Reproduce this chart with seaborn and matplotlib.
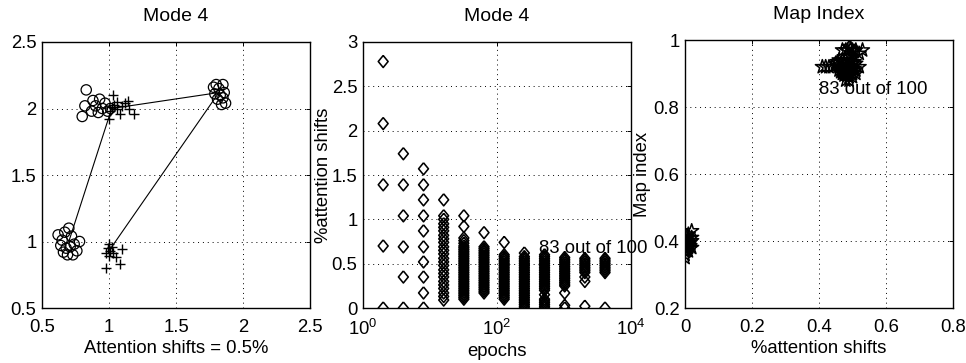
import matplotlib
matplotlib.use("Agg")
import matplotlib.pyplot as plt
import pandas as pd
import seaborn as sns

# ---- panel 1: Mode 4 clusters (Attention shifts = 0.5%)
circle_x = [0.62, 0.64, 0.66, 0.69, 0.73, 0.76, 0.78, 0.72, 0.70, 0.67, 0.65, 0.71, 0.74, 0.68,
            0.83, 0.82, 0.80, 0.88, 0.90, 0.92, 0.95, 0.97, 0.99, 0.87, 0.93, 1.01,
            1.78, 1.80, 1.82, 1.85, 1.86, 1.87, 1.84, 1.81, 1.79, 1.83, 1.85]
circle_y = [1.05, 0.97, 0.92, 0.90, 0.90, 0.93, 1.00, 1.04, 1.10, 1.07, 1.01, 0.96, 0.98, 0.95,
            2.14, 2.02, 1.94, 2.06, 2.02, 1.97, 2.00, 2.04, 1.98, 1.98, 2.07, 2.00,
            2.16, 2.18, 2.15, 2.18, 2.12, 2.04, 2.03, 2.07, 2.11, 2.10, 2.08]
plus_x = [1.00, 1.01, 1.03, 1.04, 1.06, 1.08, 1.10, 1.12, 1.14, 1.15, 1.19, 1.06, 1.02,
          0.98, 0.99, 1.00, 1.01, 1.03, 1.05, 1.08, 1.10, 0.98, 1.02, 1.00]
plus_y = [1.92, 1.98, 2.10, 2.03, 2.00, 1.96, 2.02, 2.04, 2.06, 2.00, 1.96, 2.05, 2.01,
          0.80, 0.95, 0.98, 0.93, 0.91, 0.88, 0.83, 0.94, 0.91, 0.96, 0.89]
path_x = [0.70, 1.02, 1.82, 1.00, 0.70]
path_y = [1.00, 2.00, 2.12, 0.93, 1.00]

# ---- panel 2: %attention shifts per epoch count
epochs = [2, 4, 8, 16, 32, 64, 128, 256, 512, 1024, 2048, 4096]
shifts_e2 = [0, 0.70, 1.39, 2.08, 2.78]
shifts_e4 = [0, 0.35, 0.69, 1.04, 1.39, 1.74]
shifts_e8 = [0, 0.17, 0.35, 0.52, 0.69, 0.87, 1.04, 1.22, 1.39, 1.57]
shifts_e16 = [0.09, 0.13, 0.17, 0.22, 0.26, 0.30, 0.35, 0.39, 0.43, 0.48, 0.52, 0.56,
              0.61, 0.65, 0.69, 0.74, 0.78, 0.82, 0.87, 0.91, 0.95, 1.00, 1.04, 1.22]
shifts_e32 = [0.10, 0.12, 0.14, 0.16, 0.18, 0.20, 0.22, 0.24, 0.26, 0.28, 0.30, 0.32,
              0.34, 0.36, 0.38, 0.40, 0.42, 0.44, 0.46, 0.48, 0.50, 0.52, 0.54, 0.56,
              0.58, 0.60, 0.62, 0.64, 0.66, 0.68, 0.70, 0.73, 0.76, 0.79, 0.92, 1.04]
shifts_e64 = [0.17, 0.19, 0.21, 0.23, 0.25, 0.27, 0.29, 0.31, 0.33, 0.35, 0.37, 0.39,
              0.41, 0.43, 0.45, 0.47, 0.49, 0.51, 0.53, 0.55, 0.57, 0.59, 0.61, 0.63,
              0.65, 0.67, 0.69, 0.85]
shifts_e128 = [0.10, 0.12, 0.14, 0.16, 0.18, 0.20, 0.22, 0.24, 0.26, 0.28, 0.30, 0.32,
               0.34, 0.36, 0.38, 0.40, 0.42, 0.44, 0.46, 0.48, 0.50, 0.52, 0.54, 0.56,
               0.58, 0.60, 0.74]
shifts_e256 = [0.00, 0.02, 0.04, 0.06, 0.08, 0.10, 0.12, 0.14, 0.16, 0.18, 0.20, 0.22,
               0.24, 0.26, 0.28, 0.30, 0.32, 0.34, 0.36, 0.38, 0.40, 0.42, 0.44, 0.46,
               0.48, 0.50, 0.52, 0.54, 0.56, 0.58, 0.62]
shifts_e512 = [0.00, 0.02, 0.04, 0.06, 0.08, 0.10, 0.15, 0.20, 0.22, 0.24, 0.26, 0.28,
               0.30, 0.32, 0.34, 0.36, 0.38, 0.40, 0.42, 0.44, 0.46, 0.48, 0.50, 0.52,
               0.54, 0.56, 0.58, 0.60]
shifts_e1024 = [0.00, 0.03, 0.17, 0.25, 0.27, 0.29, 0.31, 0.33, 0.35, 0.37, 0.39, 0.41,
                0.43, 0.45, 0.47, 0.49, 0.51, 0.53, 0.55, 0.57]
shifts_e2048 = [0.02, 0.30, 0.35, 0.40, 0.42, 0.44, 0.46, 0.48, 0.50, 0.52, 0.54, 0.56]
shifts_e4096 = [0.00, 0.40, 0.42, 0.44, 0.46, 0.48, 0.50, 0.52, 0.54, 0.56]

# ---- panel 3: Map index vs %attention shifts
star_x = [0.00, 0.01, 0.00, 0.01, 0.02, 0.00, 0.01, 0.00, 0.01, 0.02, 0.00, 0.01, 0.00,
          0.02, 0.01, 0.00, 0.02, 0.005, 0.015, 0.005, 0.015,
          0.47, 0.48, 0.49, 0.50, 0.51, 0.52, 0.53, 0.485, 0.495, 0.505,
          0.41, 0.42, 0.43, 0.44, 0.45,
          0.45, 0.46, 0.47, 0.48, 0.49, 0.50, 0.51, 0.52, 0.46, 0.47, 0.48, 0.49,
          0.50, 0.51, 0.46, 0.47, 0.48, 0.49, 0.50, 0.51, 0.47, 0.48, 0.49, 0.50,
          0.48, 0.49, 0.465, 0.475, 0.485, 0.495, 0.505, 0.475, 0.485, 0.495,
          0.505, 0.455, 0.465, 0.475, 0.485, 0.495]
star_y = [0.37, 0.38, 0.39, 0.40, 0.41, 0.36, 0.42, 0.38, 0.39, 0.40, 0.41, 0.37, 0.35,
          0.38, 0.41, 0.40, 0.43, 0.385, 0.395, 0.375, 0.385,
          0.97, 0.97, 0.98, 0.97, 0.97, 0.96, 0.97, 0.97, 0.975, 0.965,
          0.92, 0.92, 0.92, 0.92, 0.93,
          0.93, 0.94, 0.94, 0.94, 0.94, 0.93, 0.93, 0.92, 0.92, 0.92, 0.92, 0.92,
          0.92, 0.91, 0.91, 0.91, 0.91, 0.91, 0.90, 0.90, 0.90, 0.90, 0.89, 0.89,
          0.88, 0.88, 0.925, 0.925, 0.925, 0.915, 0.915, 0.905, 0.905, 0.935,
          0.935, 0.935, 0.905, 0.895, 0.895, 0.915]

shift_lists = [shifts_e2, shifts_e4, shifts_e8, shifts_e16, shifts_e32, shifts_e64,
               shifts_e128, shifts_e256, shifts_e512, shifts_e1024, shifts_e2048, shifts_e4096]
df_shift = pd.DataFrame({
    "epochs": [e for e, vals in zip(epochs, shift_lists) for _ in vals],
    "shift": [v for vals in shift_lists for v in vals],
})

sns.set_theme(style="white")
plt.rcParams["font.family"] = ["Liberation Sans", "DejaVu Sans"]
plt.rcParams["mathtext.fontset"] = "custom"
plt.rcParams["mathtext.rm"] = "Liberation Sans"
plt.rcParams["mathtext.it"] = "Liberation Sans"
for key in ["text.color", "axes.labelcolor", "xtick.color", "ytick.color"]:
    plt.rcParams[key] = "black"

fig = plt.figure(figsize=(9.66, 3.63), dpi=100)
ax1 = fig.add_axes([0.0435, 0.1515, 0.2774, 0.7328])
ax2 = fig.add_axes([0.3758, 0.1515, 0.2774, 0.7328])
ax3 = fig.add_axes([0.7091, 0.1515, 0.2774, 0.738])

grid_kw = dict(color="black", linestyle=(0, (1, 4)), linewidth=0.7)
fs = 13.3
# slightly tall diamond, like the MATLAB 'd' marker
diamond = [(0, 1), (0.82, 0), (0, -1), (-0.82, 0), (0, 1)]

# panel 1
sns.lineplot(x=path_x, y=path_y, sort=False, color="black", lw=0.8, ax=ax1)
sns.scatterplot(x=circle_x, y=circle_y, marker="o", s=55, facecolor="none",
                edgecolor="black", linewidth=0.9, color="black", ax=ax1)
sns.scatterplot(x=plus_x, y=plus_y, marker="+", s=55, linewidth=1.0, color="black", ax=ax1)
ax1.set_xlim(0.5, 2.5)
ax1.set_ylim(0.5, 2.5)
ax1.set_xticks([0.5, 1, 1.5, 2, 2.5])
ax1.set_yticks([0.5, 1, 1.5, 2, 2.5])
ax1.set_xticklabels(["0.5", "1", "1.5", "2", "2.5"])
ax1.set_yticklabels(["0.5", "1", "1.5", "2", "2.5"])
ax1.set_title("Mode 4", fontsize=14, pad=15)
ax1.set_xlabel("Attention shifts = 0.5%", fontsize=fs, labelpad=3)

# panel 2
sns.scatterplot(data=df_shift, x="epochs", y="shift", marker=diamond, s=75, facecolor="none",
                edgecolor="black", linewidth=1.15, color="black", ax=ax2)
ax2.set_xscale("log")
ax2.set_xlim(1, 1e4)
ax2.set_ylim(0, 3)
ax2.set_xticks([1, 100, 10000])
ax2.set_xticklabels([r"$10^0$", r"$10^2$", r"$10^4$"])
ax2.minorticks_off()
ax2.set_yticks([0, 0.5, 1, 1.5, 2, 2.5, 3])
ax2.set_yticklabels(["0", "0.5", "1", "1.5", "2", "2.5", "3"])
ax2.set_title("Mode 4", fontsize=14, pad=15)
ax2.set_xlabel("epochs", fontsize=fs, labelpad=3)
ax2.set_ylabel("%attention shifts", fontsize=fs, labelpad=0)
ax2.text(420, 0.62, "83 out of 100", fontsize=13.4)

# panel 3
sns.scatterplot(x=star_x, y=star_y, marker="*", s=110, facecolor="none",
                edgecolor="black", linewidth=1.1, color="black", ax=ax3)
ax3.set_xlim(0, 0.8)
ax3.set_ylim(0.2, 1.0)
ax3.set_xticks([0, 0.2, 0.4, 0.6, 0.8])
ax3.set_yticks([0.2, 0.4, 0.6, 0.8, 1.0])
ax3.set_xticklabels(["0", "0.2", "0.4", "0.6", "0.8"])
ax3.set_yticklabels(["0.2", "0.4", "0.6", "0.8", "1"])
ax3.set_title("Map Index", fontsize=14, pad=15)
ax3.set_xlabel("%attention shifts", fontsize=fs, labelpad=3)
ax3.set_ylabel("Map index", fontsize=fs, labelpad=2)
ax3.text(0.40, 0.84, "83 out of 100", fontsize=13.4)

for ax in (ax1, ax2, ax3):
    ax.grid(True, **grid_kw)
    ax.tick_params(direction="in", length=3, width=0.7, labelsize=fs,
                   top=True, right=True, colors="black")
    ax.tick_params(axis="x", pad=8)
    ax.tick_params(axis="y", pad=4)
    for sp in ax.spines.values():
        sp.set_visible(True)
        sp.set_color("black")
        sp.set_linewidth(1.0)
    ax.set_facecolor("white")
ax2.grid(False, axis="x")
ax2.axvline(100, **grid_kw)

fig.savefig("out.png", dpi=100, facecolor="white")
